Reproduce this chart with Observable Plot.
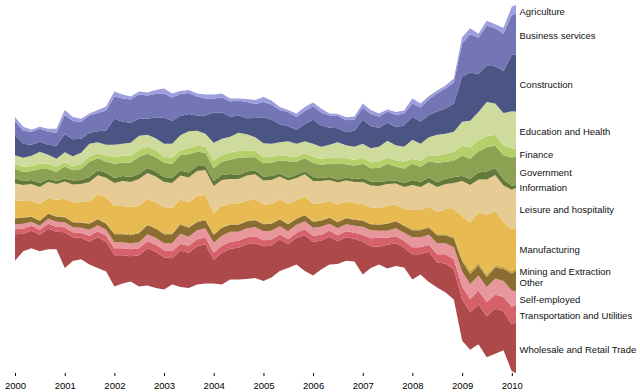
<!DOCTYPE html>
<html>
<head>
<meta charset="utf-8">
<script src="https://cdn.jsdelivr.net/npm/d3@7"></script>
<script src="https://cdn.jsdelivr.net/npm/@observablehq/plot@0.6"></script>
<style>
  html, body { margin: 0; padding: 0; background: #fff; }
  svg { display: block; }
</style>
</head>
<body>
<div id="chart"></div>
<script>
// Industries, top to bottom in the stream
const industries = [
  "Agriculture", "Business services", "Construction", "Education and Health",
  "Finance", "Government", "Information", "Leisure and hospitality",
  "Manufacturing", "Mining and Extraction", "Other", "Self-employed",
  "Transportation and Utilities", "Wholesale and Retail Trade"
];
const colors = [
  "#9c9ede", "#7375b5", "#4a5584", "#cedb9c",
  "#b5cf6b", "#8ca252", "#637939", "#e7cb94",
  "#e7ba52", "#bd9e39", "#8c6d31", "#e7969c",
  "#d6616b", "#ad494a"
];
const tickYears = ["2000","2001","2002","2003","2004","2005","2006","2007","2008","2009","2010"];

// Sample months (every other month, plus the last month)
const dates = [
  "2000-01","2000-03","2000-05","2000-07","2000-09","2000-11",
  "2001-01","2001-03","2001-05","2001-07","2001-09","2001-11",
  "2002-01","2002-03","2002-05","2002-07","2002-09","2002-11",
  "2003-01","2003-03","2003-05","2003-07","2003-09","2003-11",
  "2004-01","2004-03","2004-05","2004-07","2004-09","2004-11",
  "2005-01","2005-03","2005-05","2005-07","2005-09","2005-11",
  "2006-01","2006-03","2006-05","2006-07","2006-09","2006-11",
  "2007-01","2007-03","2007-05","2007-07","2007-09","2007-11",
  "2008-01","2008-03","2008-05","2008-07","2008-09","2008-11",
  "2009-01","2009-03","2009-05","2009-07","2009-09","2009-11",
  "2010-01","2010-02"
];

// Unemployed (thousands)
const agriculture = [
  160,160,80,80,120,160, 200,160,120,80,120,160, 200,160,120,120,120,160,
  200,160,120,120,120,160, 160,160,120,80,120,160, 200,160,120,80,120,160,
  160,160,80,80,120,120, 160,160,120,80,120,120, 200,160,120,120,120,160,
  240,240,160,200,160,240, 320,360];
const businessServices = [
  560,520,520,520,520,520, 760,720,680,680,720,800, 880,920,920,960,920,920,
  960,920,880,840,760,680, 560,600,600,600,640,560, 600,600,560,560,520,520,
  520,520,480,480,480,440, 480,480,440,440,480,480, 520,560,640,720,800,840,
  1320,1520,1440,1600,1520,1480, 1600,1600];
const construction = [
  800,560,440,400,400,520, 720,680,560,440,440,560, 1040,880,800,680,640,840,
  1040,920,760,680,600,720, 1200,1040,800,680,640,760, 1040,960,720,600,560,680,
  960,840,680,560,520,640, 960,880,760,720,720,840, 920,880,880,920,1000,1120,
  1800,1920,1520,1440,1480,1680, 2240,2280];
const educationHealth = [
  320,360,400,480,360,320, 400,400,440,520,440,440, 480,480,520,560,480,480,
  520,560,600,680,600,520, 720,640,640,720,640,560, 560,520,520,600,520,480,
  520,480,520,600,520,520, 560,560,600,680,600,600, 760,680,720,840,800,800,
  960,1080,1120,1360,1240,1280, 1480,1480];
const finance = [
  200,200,200,200,200,200, 160,160,200,200,200,240, 280,280,280,280,280,280,
  240,240,200,240,240,240, 280,280,280,280,280,240, 240,240,200,200,200,200,
  240,240,240,240,240,240, 240,240,240,240,240,280, 200,240,240,280,320,360,
  400,440,440,440,440,400, 360,320];
const government = [
  400,360,360,560,400,360, 480,400,440,600,480,440, 560,520,560,680,560,560,
  560,560,600,720,560,520, 520,520,560,680,560,520, 520,520,520,640,520,520,
  560,520,520,640,520,520, 560,520,560,680,560,560, 640,600,640,760,680,640,
  800,800,840,960,880,960, 1120,1120];
const information = [
  200,160,160,160,120,120, 120,160,160,200,200,200, 200,200,200,200,200,200,
  200,200,200,200,200,160, 200,200,200,160,160,160, 160,160,120,120,120,120,
  160,120,120,120,120,120, 160,160,160,120,120,160, 200,200,200,200,200,240,
  200,240,280,320,280,240, 160,120];
const leisure = [
  680,640,680,680,640,640, 680,720,720,760,760,760, 920,1000,1000,1080,1040,1040,
  1000,1000,960,1000,1000,1000, 1080,1040,1000,1000,1000,1000, 960,960,920,920,880,880,
  920,880,840,880,840,840, 880,880,880,880,840,880, 1000,920,960,1000,1000,1040,
  1400,1480,1320,1400,1440,1440, 1560,1560];
const manufacturing = [
  680,640,600,640,600,640, 720,760,800,880,960,1040, 1080,1080,1080,1040,1000,1000,
  1040,1000,960,960,1000,960, 840,840,800,800,800,800, 760,760,760,800,720,720,
  680,680,640,680,640,640, 640,640,640,680,640,640, 760,760,800,880,1000,1120,
  1720,1960,2000,2400,2160,1800, 1680,1640];
const mining = [
  20,20,20,20,20,20, 20,24,18,22,26,28, 40,40,40,40,40,40,
  40,40,40,40,40,40, 20,24,20,22,20,24, 20,24,20,22,20,24,
  20,24,20,22,20,24, 20,24,20,22,20,24, 40,40,40,40,40,40,
  80,100,100,80,80,80, 96,100];
const other = [
  240,240,200,200,200,200, 200,200,200,240,240,240, 320,320,320,360,360,360,
  360,360,360,360,320,320, 320,320,280,280,280,280, 280,280,280,280,240,240,
  240,240,240,240,240,240, 240,240,240,280,280,280, 280,280,280,320,320,360,
  400,400,400,400,440,480, 680,800];
const selfEmployed = [
  200,200,160,160,200,200, 200,200,200,240,240,240, 240,240,240,240,280,280,
  280,320,400,360,360,360, 400,400,400,360,360,360, 360,360,320,320,320,320,
  320,320,280,280,280,280, 320,320,280,280,320,320, 400,400,400,440,440,480,
  600,600,600,600,640,640, 640,560];
const transportation = [
  200,200,200,200,200,200, 200,200,200,240,240,240, 280,280,280,280,280,280,
  280,280,280,280,280,280, 280,280,280,280,280,280, 240,240,200,200,200,240,
  240,240,240,240,240,240, 280,320,360,280,280,280, 280,280,280,320,360,400,
  520,520,560,560,560,560, 700,680];
const wholesaleRetail = [
  1060,700,700,660,820,700, 1420,940,860,900,1220,1180, 1240,1120,1000,1240,1480,1440,
  1280,1040,1440,1400,1520,1560, 940,1260,1220,1260,1380,1380, 1380,1260,1260,940,1060,1420,
  1340,1140,1100,900,940,900, 1300,860,700,940,900,780, 1000,800,1200,1000,1160,1200,
  1640,1500,1580,1640,1800,1560, 1864,2024];

const seriesValues = [
  agriculture, businessServices, construction, educationHealth, finance,
  government, information, leisure, manufacturing, mining, other,
  selfEmployed, transportation, wholesaleRetail
];

const parseMonth = d3.utcParse("%Y-%m");
const bottomUp = industries.slice().reverse();
const rows = [];
for (const name of bottomUp) {
  const values = seriesValues[industries.indexOf(name)];
  values.forEach((v, i) => rows.push({date: parseMonth(dates[i]), industry: name, unemployed: v}));
}

const stackOpts = {x: "date", y: "unemployed", z: "industry", offset: "center", order: bottomUp};

const chart = Plot.plot({
  width: 640,
  height: 392,
  marginTop: 5,
  marginBottom: 19,
  marginLeft: 15,
  marginRight: 124,
  style: {fontFamily: "'Liberation Sans', Arial, Helvetica, sans-serif", fontSize: "9.5px", color: "#000", background: "#fff"},
  x: {type: "utc"},
  y: {axis: null},
  color: {domain: industries, range: colors},
  marks: [
    Plot.areaY(rows, {...stackOpts, fill: "industry"}),
    Plot.axisX({
      ticks: tickYears.map(y => parseMonth(y + "-01")),
      tickFormat: d3.utcFormat("%Y"),
      tickSize: 3,
      tickPadding: 6,
      label: null
    }),
    Plot.text(rows, Plot.selectLast({
      ...Plot.stackY(stackOpts),
      text: "industry",
      textAnchor: "start",
      dx: 3,
      dy: 1.5,
      fill: "#111"
    }))
  ]
});
document.getElementById("chart").appendChild(chart);
</script>
</body>
</html>
